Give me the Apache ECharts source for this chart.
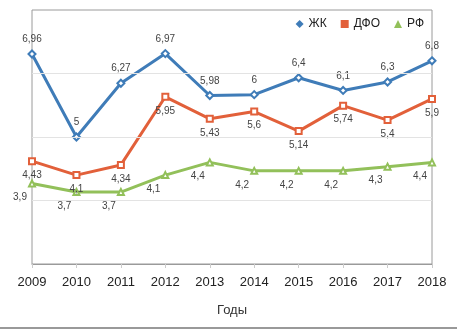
<!DOCTYPE html>
<html>
<head>
<meta charset="utf-8">
<script src="https://cdn.jsdelivr.net/npm/echarts@6/dist/echarts.min.js"></script>
<style>
  html, body { margin: 0; padding: 0; background: #fff; }
  #chart { width: 457px; height: 330px; }
</style>
</head>
<body>
<div id="chart"></div>
<script>
// Годы наблюдения
const years = ['2009', '2010', '2011', '2012', '2013', '2014', '2015', '2016', '2017', '2018'];
// Хабаровский край
const zhk = [6.96, 5, 6.27, 6.97, 5.98, 6, 6.4, 6.1, 6.3, 6.8];
// Дальневосточный федеральный округ
const dfo = [4.43, 4.1, 4.34, 5.95, 5.43, 5.6, 5.14, 5.74, 5.4, 5.9];
// Российская Федерация
const rf = [3.9, 3.7, 3.7, 4.1, 4.4, 4.2, 4.2, 4.2, 4.3, 4.4];
// Горизонтальные линии сетки
const gridValues = [3.5, 5, 6.5];

const fmt = p => String(p.value).replace('.', ',');
const labelBase = { show: true, fontSize: 10, color: '#444', fontFamily: 'Liberation Sans, Arial, sans-serif', formatter: fmt };

const chart = echarts.init(document.getElementById('chart'), null, { renderer: 'canvas' });
chart.setOption({
  animation: false,
  backgroundColor: '#fff',
  textStyle: { fontFamily: 'Liberation Sans, Arial, sans-serif' },
  grid: { left: 32, top: 10, right: 25, bottom: 66, show: true, borderColor: '#9a9a9a', borderWidth: 1 },
  legend: {
    right: 28, top: 13, itemWidth: 8, itemHeight: 8, itemGap: 14,
    textStyle: { fontSize: 12, color: '#222' },
    data: [
      { name: 'ЖК', icon: 'diamond' },
      { name: 'ДФО', icon: 'rect' },
      { name: 'РФ', icon: 'triangle' }
    ]
  },
  xAxis: {
    type: 'category', data: years, boundaryGap: false,
    axisLine: { lineStyle: { color: '#9a9a9a' } },
    axisTick: { show: true, length: 4, lineStyle: { color: '#ccc' } },
    axisLabel: { fontSize: 13, color: '#222', margin: 12 },
    name: 'Годы', nameLocation: 'middle', nameGap: 40,
    nameTextStyle: { fontSize: 13, color: '#333' }
  },
  yAxis: {
    type: 'value', min: 2, max: 8,
    axisLine: { show: false }, axisTick: { show: false }, axisLabel: { show: false },
    splitLine: { show: false }
  },
  series: [
    {
      name: 'ЖК', type: 'line', data: zhk, color: '#3f7cb8',
      symbol: 'emptyDiamond', symbolSize: 7, lineStyle: { width: 3 },
      label: Object.assign({}, labelBase, { position: 'top' }),
      markLine: {
        silent: true, symbol: 'none', label: { show: false },
        lineStyle: { color: '#e3e3e3', width: 1, type: 'solid' },
        data: gridValues.map(v => ({ yAxis: v }))
      },
      z: 4
    },
    {
      name: 'ДФО', type: 'line', data: dfo, color: '#e2603a',
      symbol: 'emptyRect', symbolSize: 6, lineStyle: { width: 3 },
      label: Object.assign({}, labelBase, { position: 'bottom' }),
      z: 3
    },
    {
      name: 'РФ', type: 'line', data: rf, color: '#92c05a',
      symbol: 'emptyTriangle', symbolSize: 6, lineStyle: { width: 3 },
      label: Object.assign({}, labelBase, { position: 'bottom', offset: [-12, 0] }),
      z: 2
    }
  ],
  graphic: [
    { type: 'rect', left: 0, top: 327, shape: { width: 457, height: 2 }, style: { fill: '#999' } }
  ]
});
</script>
</body>
</html>
